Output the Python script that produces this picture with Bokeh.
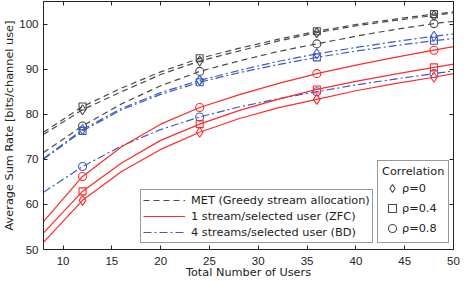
from bokeh.plotting import figure
from bokeh.models import Legend, LegendItem, LinearAxis, FixedTicker
from bokeh.embed import file_html
from bokeh.resources import INLINE

# ---------------- data ----------------
users = [8, 12, 16, 20, 24, 28, 32, 36, 40, 44, 48, 50]
marker_users = [12, 24, 36, 48]

# MET (Greedy stream allocation)
met_rho0 = [75.5, 81.0, 85.0, 88.8, 91.8, 94.0, 96.2, 98.1, 99.6, 100.8, 101.9, 102.5]
met_rho04 = [76.0, 81.7, 85.8, 89.4, 92.4, 94.6, 96.6, 98.4, 99.9, 101.1, 102.2, 102.7]
met_rho08 = [71.5, 77.4, 82.3, 86.3, 89.5, 91.8, 93.9, 95.6, 97.3, 98.8, 100.1, 100.6]

# 1 stream/selected user (ZFC)
zfc_rho0 = [51.6, 60.9, 67.3, 72.2, 76.0, 79.0, 81.4, 83.3, 85.2, 86.8, 88.2, 89.0]
zfc_rho04 = [53.7, 62.9, 69.2, 74.2, 77.8, 80.8, 83.3, 85.5, 87.3, 88.9, 90.4, 91.1]
zfc_rho08 = [56.2, 66.2, 72.8, 77.8, 81.5, 84.3, 86.8, 89.0, 90.9, 92.6, 94.2, 95.0]

# 4 streams/selected user (BD)
bd_rho0 = [70.2, 76.6, 81.3, 84.8, 87.5, 89.7, 91.7, 93.4, 94.8, 96.1, 97.3, 97.8]
bd_rho04 = [70.0, 76.3, 81.0, 84.4, 87.1, 89.2, 91.0, 92.6, 94.0, 95.2, 96.3, 96.8]
bd_rho08 = [62.7, 68.4, 73.0, 76.6, 79.4, 81.6, 83.4, 85.0, 86.5, 87.8, 89.0, 89.6]

x_ticks = [10, 15, 20, 25, 30, 35, 40, 45, 50]
y_ticks = [50, 60, 70, 80, 90, 100]

scheme_labels = ["MET (Greedy stream allocation)",
                 "1 stream/selected user (ZFC)",
                 "4 streams/selected user (BD)"]
corr_labels = ["\u03c1=0", "\u03c1=0.4", "\u03c1=0.8"]

# ---------------- styling ----------------
TICK_FONT = "Liberation Sans"
FONT = "DejaVu Sans"
TICK_FS = "11.5px"
FS = "11.3px"
TXT = "#222222"
AX = "#222222"
MET_C = "#4a4a4a"
ZFC_C = "#ff2a2a"
BD_C = "#3a5bbf"

p = figure(width=461, height=283, x_range=(8, 50), y_range=(50, 105),
           output_backend="svg", toolbar_location=None,
           min_border_left=38, min_border_right=8, min_border_top=1,
           min_border_bottom=34)
p.xgrid.visible = False
p.ygrid.visible = False
p.outline_line_color = AX
p.outline_line_width = 1
p.background_fill_color = "white"
p.border_fill_color = "white"

for ax, ticks in ((p.xaxis[0], x_ticks), (p.yaxis[0], y_ticks)):
    ax.ticker = FixedTicker(ticks=ticks)
    ax.major_tick_in = 4
    ax.major_tick_out = 0
    ax.minor_tick_line_color = None
    ax.axis_line_color = AX
    ax.major_tick_line_color = AX
    ax.major_label_text_font = TICK_FONT
    ax.major_label_text_font_size = TICK_FS
    ax.major_label_text_color = TXT
    ax.axis_label_text_font = FONT
    ax.axis_label_text_font_size = FS
    ax.axis_label_text_font_style = "normal"
    ax.axis_label_text_color = TXT

p.xaxis.axis_label = "Total Number of Users"
p.yaxis.axis_label = "Average Sum Rate [bits/channel use]"
p.xaxis.major_label_standoff = 7
p.xaxis.axis_label_standoff = -2
p.yaxis.major_label_standoff = 5
p.yaxis.axis_label_standoff = 0

# mirrored tick-only axes on top and right (labels not drawn)
for side, ticks in (("above", x_ticks), ("right", y_ticks)):
    a = LinearAxis(ticker=FixedTicker(ticks=ticks), major_tick_in=4, major_tick_out=0,
                   minor_tick_line_color=None, major_label_text_font_size="1px",
                   major_label_text_color=None, major_label_standoff=0,
                   axis_line_color=AX, major_tick_line_color=AX)
    p.add_layout(a, side)

idx = [users.index(u) for u in marker_users]

def series(vals, color, dash, marker, msize):
    r = p.line(users, vals, line_color=color, line_width=1.2, line_dash=dash)
    m = p.scatter([users[i] for i in idx], [vals[i] for i in idx], marker=marker,
                  size=msize, line_color=color, fill_color=None, line_width=1.1)
    return r, m

markers = [("diamond", 10), ("square", 7), ("circle", 8)]

met = [series(v, MET_C, "6 4", m, s) for v, (m, s) in zip([met_rho0, met_rho04, met_rho08], markers)]
bd = [series(v, BD_C, "8 3 2 3", m, s) for v, (m, s) in zip([bd_rho0, bd_rho04, bd_rho08], markers)]
zfc = [series(v, ZFC_C, "solid", m, s) for v, (m, s) in zip([zfc_rho0, zfc_rho04, zfc_rho08], markers)]

leg1 = Legend(items=[LegendItem(label=scheme_labels[0], renderers=[met[0][0]]),
                     LegendItem(label=scheme_labels[1], renderers=[zfc[0][0]]),
                     LegendItem(label=scheme_labels[2], renderers=[bd[0][0]])],
              location=(97, 6), orientation="vertical",
              glyph_width=42, glyph_height=16, label_height=16, spacing=0,
              padding=2, margin=0, label_standoff=6,
              label_text_font=FONT, label_text_font_size=FS, label_text_color=TXT,
              border_line_color="#333333", border_line_width=1,
              background_fill_color="white", background_fill_alpha=1)
p.add_layout(leg1, "center")

leg2 = Legend(items=[LegendItem(label=lab, renderers=[met[i][1]]) for i, lab in enumerate(corr_labels)],
              location=(334, 6), orientation="vertical", title="Correlation",
              title_text_font=FONT, title_text_font_size=FS,
              title_text_font_style="normal", title_text_color=TXT, title_standoff=0,
              glyph_width=20, glyph_height=20, label_height=16, spacing=-4,
              padding=4, margin=0, label_standoff=-3,
              label_text_font=FONT, label_text_font_size=FS, label_text_color=TXT,
              border_line_color="#333333", border_line_width=1,
              background_fill_color="white", background_fill_alpha=1)
p.add_layout(leg2, "center")

open("out.html", "w").write(file_html(p, INLINE))
